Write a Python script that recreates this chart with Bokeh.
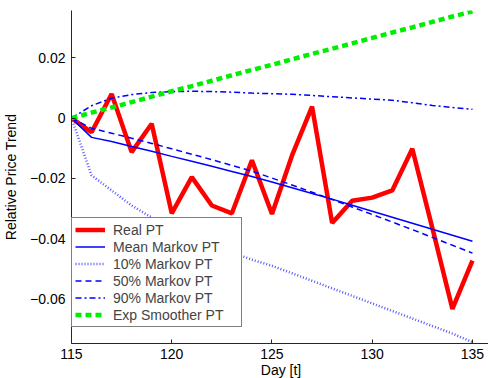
from bokeh.plotting import figure
from bokeh.embed import file_html
from bokeh.resources import INLINE
from bokeh.models import FixedTicker, CustomJSTickFormatter, Range1d, Legend, LegendItem

days = list(range(115, 136))
real_pt = [0.0, -0.0047, 0.0080, -0.0113, -0.0019, -0.0316, -0.0196, -0.0290, -0.0316, -0.0140,
           -0.0318, -0.0124, 0.0038, -0.0348, -0.0274, -0.0264, -0.0240, -0.0102, -0.0365, -0.0633, -0.0473]
mean_pt = [0.0, -0.0064, -0.0078, -0.0094, -0.0110, -0.0127, -0.0143, -0.0160, -0.0177, -0.0194,
           -0.0212, -0.0231, -0.0250, -0.0269, -0.0289, -0.0309, -0.0329, -0.0349, -0.0369, -0.0389, -0.0409]
p10_pt = [0.0, -0.0190, -0.0240, -0.0290, -0.0330, -0.0360, -0.0390, -0.0415, -0.0445, -0.0470,
          -0.0490, -0.0515, -0.0540, -0.0565, -0.0590, -0.0615, -0.0640, -0.0665, -0.0690, -0.0715, -0.0744]
p50_pt = [0.0, -0.0034, -0.0050, -0.0067, -0.0084, -0.0102, -0.0120, -0.0138, -0.0157, -0.0176,
          -0.0199, -0.0222, -0.0246, -0.0270, -0.0295, -0.0320, -0.0345, -0.0370, -0.0396, -0.0422, -0.0448]
p90_pt = [0.0, 0.0041, 0.0066, 0.0078, 0.0085, 0.0088, 0.0089, 0.0088, 0.0086, 0.0083,
          0.0081, 0.0079, 0.0075, 0.0071, 0.0067, 0.0063, 0.0059, 0.0051, 0.0042, 0.0035, 0.0029]
exp_pt = [0.0, 0.0018, 0.0035, 0.0053, 0.0071, 0.0089, 0.0106, 0.0124, 0.0142, 0.0160,
          0.0177, 0.0195, 0.0213, 0.0230, 0.0248, 0.0266, 0.0284, 0.0301, 0.0319, 0.0337, 0.0354]

x_ticks = [115, 120, 125, 130, 135]
y_ticks = [-0.06, -0.04, -0.02, 0, 0.02]

FONT = "Liberation Sans"

p = figure(frame_width=419, frame_height=333, output_backend="svg", toolbar_location=None,
           x_range=Range1d(115, 135.9), y_range=Range1d(-0.0748, 0.0357),
           min_border_left=61, min_border_right=0, min_border_top=10, min_border_bottom=30)
p.outline_line_color = None
p.grid.visible = False
p.background_fill_color = "white"

r_real = p.line(days, real_pt, line_color="#ff0000", line_width=4.5)
r_mean = p.line(days, mean_pt, line_color="#0000ff", line_width=1.5)
r_p10 = p.line(days, p10_pt, line_color="#5555ff", line_width=2.5, line_dash="1 2")
r_p50 = p.line(days, p50_pt, line_color="#0000ff", line_width=1.5, line_dash="6 4")
r_p90 = p.line(days, p90_pt, line_color="#0000ff", line_width=1.5, line_dash="6 3 2 3")
r_exp = p.line(days, exp_pt, line_color="#00ee00", line_width=4.5, line_dash="6 4")

for ax in (p.xaxis[0], p.yaxis[0]):
    ax.axis_line_color = "#262626"
    ax.major_tick_line_color = "#262626"
    ax.major_tick_in = 4
    ax.major_tick_out = 0
    ax.minor_tick_in = 0
    ax.minor_tick_out = 0
    ax.major_label_text_font = FONT
    ax.major_label_text_font_size = "14px"
    ax.major_label_text_color = "black"
    ax.axis_label_text_font = FONT
    ax.axis_label_text_font_size = "14px"
    ax.axis_label_text_font_style = "normal"
    ax.axis_label_text_color = "black"

p.xaxis.ticker = FixedTicker(ticks=x_ticks)
p.yaxis.ticker = FixedTicker(ticks=y_ticks)
p.yaxis.formatter = CustomJSTickFormatter(code="""
if (Math.abs(tick) < 1e-12) { return '0'; }
return tick.toFixed(2).replace('-', '\\u2212');
""")
p.xaxis.axis_label = "Day [t]"
p.yaxis.axis_label = "Relative Price Trend"
p.xaxis.major_label_standoff = 5
p.xaxis.axis_label_standoff = 0
p.yaxis.major_label_standoff = 6
p.yaxis.axis_label_standoff = 8

legend = Legend(items=[
    LegendItem(label="Real PT", renderers=[r_real]),
    LegendItem(label="Mean Markov PT", renderers=[r_mean]),
    LegendItem(label="10% Markov PT", renderers=[r_p10]),
    LegendItem(label="50% Markov PT", renderers=[r_p50]),
    LegendItem(label="90% Markov PT", renderers=[r_p90]),
    LegendItem(label="Exp Smoother PT", renderers=[r_exp]),
], location=(0, 16))
legend.label_text_font = FONT
legend.label_text_font_size = "14px"
legend.label_height = 17
legend.label_width = 125
legend.glyph_height = 17
legend.glyph_width = 30
legend.label_standoff = 8
legend.padding = 3
legend.spacing = 0
legend.margin = 0
legend.border_line_color = "black"
legend.border_line_width = 1
legend.background_fill_color = "white"
legend.background_fill_alpha = 1
p.add_layout(legend, "center")

open("out.html", "w").write(file_html(p, INLINE))
